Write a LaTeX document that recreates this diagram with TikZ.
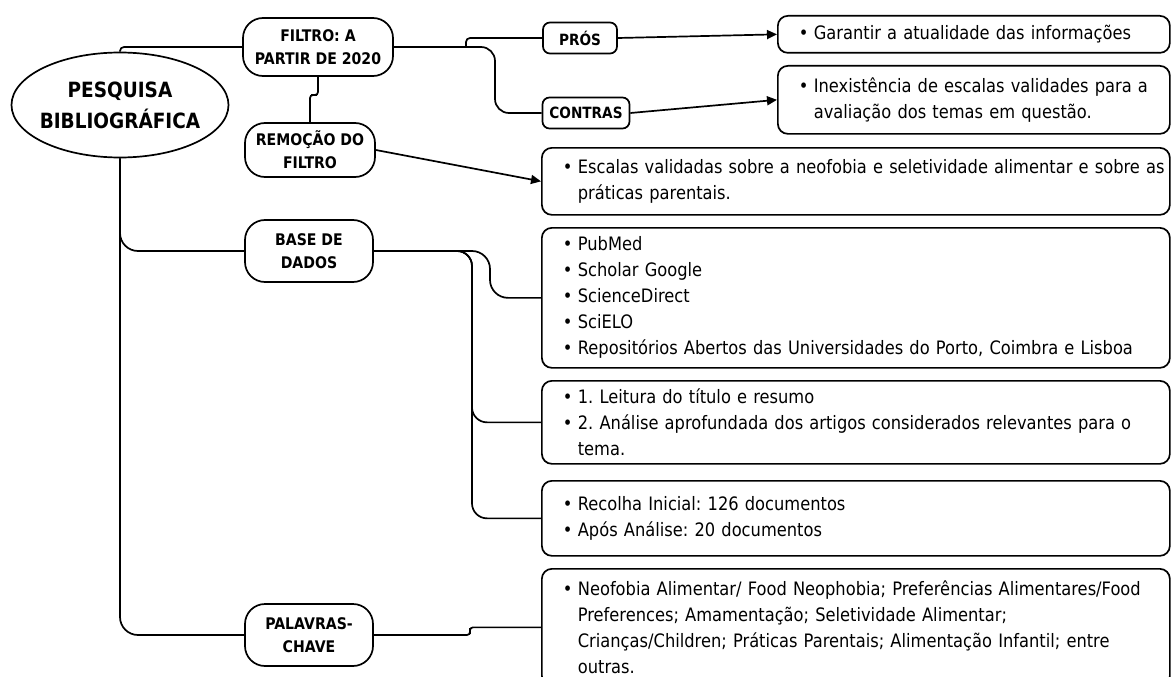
\documentclass[tikz,border=0pt]{standalone}
\usepackage{fontspec}
\setmainfont{DejaVu Sans}[FakeStretch=0.88]
\usetikzlibrary{shapes.geometric,arrows.meta}

\newcommand{\itm}[1]{\mbox{\makebox[15pt][l]{\textbullet}#1}}
\newcommand{\cnt}[1]{\mbox{\hspace*{15pt}#1}}

\tikzset{
  conn/.style={line width=1.7pt},
  arr/.style={conn,-{Triangle[length=10pt,width=9pt]}},
  topic/.style={draw,line width=1.7pt,rounded corners=20pt,align=center,inner sep=2pt,
    font=\bfseries\fontsize{16}{23}\selectfont},
  tag/.style={draw,line width=1.7pt,rounded corners=7pt,align=center,inner sep=2pt,
    minimum height=31pt,font=\bfseries\fontsize{15.5}{18}\selectfont},
  info/.style={draw,line width=1.7pt,rounded corners=10pt,align=left,anchor=north west,
    inner xsep=21pt,inner ysep=0pt,font=\fontsize{18.5}{26}\selectfont}
}

\begin{document}
\frenchspacing
\begin{tikzpicture}[x=1pt,y=-1pt]
	\useasboundingbox (0,0) rectangle (1171,677);
	\node[ellipse,draw,line width=1.7pt,minimum width=217pt,minimum height=105pt,inner xsep=-10pt,inner ysep=0pt,
		align=center,font=\bfseries\fontsize{21}{31}\selectfont] (pesq) at (120,105) {PESQUISA\\BIBLIOGRÁFICA};
	\node[topic,minimum width=150pt,minimum height=58pt] (filtro) at (318,47) {FILTRO: A\\PARTIR DE 2020};
	\node[topic,minimum width=130pt,minimum height=54pt] (remocao) at (310,150) {REMOÇÃO DO\\FILTRO};
	\node[topic,minimum width=128pt,minimum height=62pt] (base) at (309,251) {BASE DE\\DADOS};
	\node[topic,minimum width=128pt,minimum height=62pt] (chave) at (309,635) {PALAVRAS-\\CHAVE};
	\node[tag,minimum width=74pt] (pros) at (580,38) {PRÓS};
	\node[tag,minimum width=87pt] (contras) at (586,113) {CONTRAS};

	\node[info,text width=350pt,minimum height=37pt] (garantir) at (777,15)
		{\itm{Garantir a atualidade das informações}};
	\node[info,text width=350pt,minimum height=68pt] (inexist) at (777,65)
		{\itm{Inexistência de escalas validades para a}\\\cnt{avaliação dos temas em questão.}};
	\node[info,text width=586pt,minimum height=67pt] (escalas) at (541,147)
		{\itm{Escalas validadas sobre a neofobia e seletividade alimentar e sobre as}\\\cnt{práticas parentais.}};
	\node[info,text width=586pt,minimum height=140pt] (bases) at (541,227)
		{\itm{PubMed}\\\itm{Scholar Google}\\\itm{ScienceDirect}\\\itm{SciELO}\\
		\itm{Repositórios Abertos das Universidades do Porto, Coimbra e Lisboa}};
	\node[info,text width=586pt,minimum height=83pt] (leitura) at (541,380)
		{\itm{1. Leitura do título e resumo}\\
		\itm{2. Análise aprofundada dos artigos considerados relevantes para o}\\\cnt{tema.}};
	\node[info,text width=586pt,minimum height=75pt] (recolha) at (541,480)
		{\itm{Recolha Inicial: 126 documentos}\\\itm{Após Análise: 20 documentos}};
	\node[info,text width=586pt,minimum height=117pt] (termos) at (541,568)
		{\itm{Neofobia Alimentar/ Food Neophobia; Preferências Alimentares/Food}\\
		\cnt{Preferences; Amamentação; Seletividade Alimentar;}\\
		\cnt{Crianças/Children; Práticas Parentais; Alimentação Infantil; entre}\\
		\cnt{outras.}};

	\coordinate (fjog) at (314,95);
	\coordinate (psplit) at (466,47);
	\coordinate (cbend) at (495,80);
	\coordinate (dbend) at (490,270);
	\coordinate (lbend) at (472,400);
	\coordinate (kjog) at (470,631);

	\draw[conn,rounded corners=4] (pesq.north) |- (filtro.west);
	\draw[conn,rounded corners=18] (pesq.south) |- (base.west);
	\draw[conn,rounded corners=18] (pesq.south) |- (chave.west);
	\draw[conn,rounded corners=3] (filtro.south) |- (fjog) -| (remocao.north);
	\draw[conn,rounded corners=14] (filtro.east) -| (cbend |- contras.west) -- (contras.west);
	\draw[conn,rounded corners=4] (psplit) |- (pros.west);
	\draw[arr] (pros.east) -- (garantir.west);
	\draw[arr] (contras.east) -- (inexist.west);
	\draw[arr] (remocao.east) -- (escalas.west);
	\draw[conn,rounded corners=18] (base.east) -| (dbend |- bases.west) -- (bases.west);
	\draw[conn,rounded corners=15] (base.east) -| (lbend |- leitura.west) -- (leitura.west);
	\draw[conn,rounded corners=15] (base.east) -| (lbend |- recolha.west) -- (recolha.west);
	\draw[conn,rounded corners=3] (chave.east) -| (kjog) |- (termos.west);
\end{tikzpicture}
\end{document}
